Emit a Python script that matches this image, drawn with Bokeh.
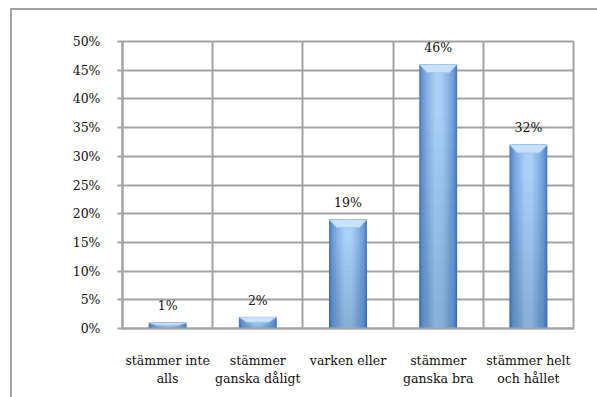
from bokeh.plotting import figure
from bokeh.models import Range1d, FixedTicker, ColumnDataSource
from bokeh.embed import file_html
from bokeh.resources import INLINE
from bokeh.core.properties import value

# survey answers and their shares (percent)
categories = ["stämmer inte\nalls", "stämmer\nganska dåligt", "varken eller",
              "stämmer\nganska bra", "stämmer helt\noch hållet"]
shares = [1, 2, 19, 46, 32]
share_labels = ["1%", "2%", "19%", "46%", "32%"]
y_ticks = [0, 5, 10, 15, 20, 25, 30, 35, 40, 45, 50]
y_tick_labels = ["0%", "5%", "10%", "15%", "20%", "25%", "30%", "35%", "40%", "45%", "50%"]

FONT = "DejaVu Serif"
GRID = "#a3a3a3"

n = len(categories)
centers = [i + 0.5 for i in range(n)]

p = figure(width=597, height=397, output_backend="svg", toolbar_location=None,
           x_range=Range1d(0, n), y_range=Range1d(0, 50),
           min_border_left=122, min_border_right=24, min_border_top=41, min_border_bottom=69)
p.background_fill_color = "white"
# transparent outer area so the page frame drawn behind the canvas shows through
p.border_fill_alpha = 0
p.styles = {
    "background": (
        f"linear-gradient({GRID},{GRID}) 10px 8px / 2px 400px no-repeat, "
        f"linear-gradient({GRID},{GRID}) 10px 8px / 600px 2px no-repeat, white"
    )
}
p.outline_line_color = GRID
p.outline_line_width = 2

# grid: horizontal every 5 %, vertical between categories
p.ygrid.ticker = FixedTicker(ticks=y_ticks)
p.xgrid.ticker = FixedTicker(ticks=list(range(n + 1)))
for g in (p.xgrid, p.ygrid):
    g.grid_line_color = GRID
    g.grid_line_width = 2

# y axis
p.yaxis.ticker = FixedTicker(ticks=y_ticks)
p.yaxis.major_label_overrides = dict(zip(y_ticks, y_tick_labels))
p.yaxis.major_tick_out = 5
p.yaxis.major_tick_in = 0
p.yaxis.major_tick_line_color = GRID
p.yaxis.major_tick_line_width = 2
p.yaxis.minor_tick_line_color = None
p.yaxis.major_label_standoff = 17

# x axis with category names
p.xaxis.ticker = FixedTicker(ticks=centers)
p.xaxis.major_label_overrides = dict(zip(centers, categories))
p.xaxis.major_tick_line_color = None
p.xaxis.minor_tick_line_color = None
p.xaxis.major_label_standoff = 18

for ax in (p.xaxis, p.yaxis):
    ax.axis_line_color = GRID
    ax.axis_line_width = 2
    ax.major_label_text_font = FONT
    ax.major_label_text_font_size = "12.5px"
    ax.major_label_text_color = "#111111"

# bars: nested strips give a horizontal shading from darker edges to a light centre
BAR_W = 0.42
edge = (74, 124, 196)
mid = (170, 208, 247)
steps = 10
for k in range(steps):
    t = k / (steps - 1)
    c = tuple(int(edge[j] + (mid[j] - edge[j]) * (t ** 0.6)) for j in range(3))
    w = BAR_W * (1 - 0.9 * k / steps)
    p.vbar(x=centers, top=shares, bottom=0, width=w,
           fill_color="#%02x%02x%02x" % c, line_color=None)

# darker towards the base
layers = 14
for k in range(layers):
    frac = 0.1 + 0.75 * k / layers
    p.vbar(x=centers, top=[v * frac for v in shares], bottom=0, width=BAR_W,
           fill_color="#1f4f9a", fill_alpha=0.018, line_color=None)

# bevelled top face of each bar
xs, ys = [], []
for cx, v in zip(centers, shares):
    d = min(1.4, 0.45 * v)
    inset = 0.085
    xs.append([cx - BAR_W / 2, cx + BAR_W / 2, cx + BAR_W / 2 - inset, cx - BAR_W / 2 + inset])
    ys.append([v, v, v - d, v - d])
p.patches(xs=xs, ys=ys, fill_color="#c8e2fc", line_color="#9cc4ee", line_width=0.6)

# value labels above bars
src = ColumnDataSource(dict(x=centers, y=shares, t=share_labels))
p.text(x="x", y="y", text="t", source=src, text_align="center", text_baseline="middle",
       y_offset=-17, text_font=value(FONT), text_font_size="12.5px", text_color="#111111")

open("out.html", "w").write(file_html(p, INLINE))
